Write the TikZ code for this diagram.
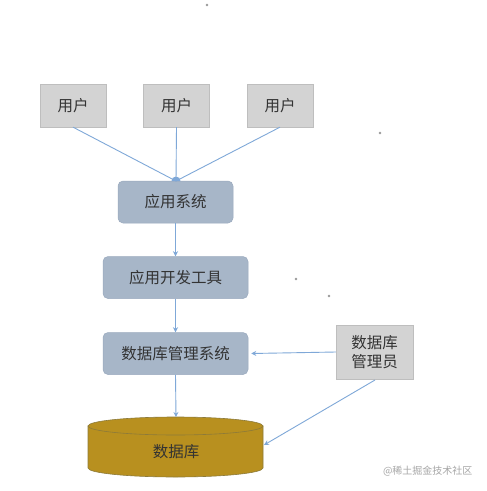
\documentclass[tikz,border=0pt]{standalone}
\usepackage{fontspec}
\setmainfont{Noto Sans CJK SC}
\usetikzlibrary{arrows.meta}
\definecolor{usergray}{HTML}{D3D3D3}
\definecolor{sysblue}{HTML}{A7B6C8}
\definecolor{sysedge}{HTML}{9AAABE}
\definecolor{dbfill}{HTML}{B8901F}
\definecolor{dbedge}{HTML}{8C7A3A}
\definecolor{linkblue}{HTML}{7FA8D8}
\definecolor{txt}{HTML}{333333}
\tikzset{
  userbox/.style={fill=usergray, draw=usergray!90!black, line width=0.3pt, minimum width=66pt, minimum height=43pt, inner sep=0pt, font=\fontsize{15.5}{18}\selectfont, text=txt},
  sysbox/.style={fill=sysblue, draw=sysedge, line width=0.5pt, rounded corners=5pt, minimum height=42pt, inner sep=0pt, font=\fontsize{15.5}{18}\selectfont, text=txt},
  link/.style={draw=linkblue, line width=0.9pt, -{Stealth[length=5pt,width=5pt]}},
  plainlink/.style={draw=linkblue, line width=0.9pt},
  speck/.style={fill=gray!80, draw=none}
}
\begin{document}
\begin{tikzpicture}[x=1pt,y=-1pt]
\useasboundingbox (0,0) rectangle (487,491);
\fill[white] (0,0) rectangle (487,491);
% users
\node[userbox] (u1) at (73,105.5) {用户};
\node[userbox] (u2) at (176.5,105.5) {用户};
\node[userbox] (u3) at (280,105.5) {用户};
% systems
\node[sysbox, minimum width=115pt] (app) at (175.5,202) {应用系统};
\node[sysbox, minimum width=145pt] (dev) at (175.5,277.5) {应用开发工具};
\node[sysbox, minimum width=145pt] (dbms) at (175.5,353.5) {数据库管理系统};
\node[userbox, minimum width=77pt, minimum height=54pt, align=center, font=\fontsize{15.5}{19}\selectfont] (dba) at (374.5,352) {数据库\\管理员};
% cylinder
\draw[dbedge, line width=0.6pt, fill=dbfill] (88,426) -- (88,468) arc[start angle=180, end angle=0, x radius=87.5, y radius=9] -- (263,426) -- cycle;
\draw[dbedge, line width=0.6pt, fill=dbfill] (175.5,426) ellipse[x radius=87.5, y radius=9];
\node[font=\fontsize{15.5}{18}\selectfont, text=txt] (db) at (176,452) {数据库};
\coordinate (dbtop) at (176,417);
\coordinate (dbside) at (264,445);
\coordinate (dbaout) at (375,380);
% connectors
\coordinate (meet) at (176,181);
\draw[plainlink] (u1.south) -- (meet);
\draw[plainlink] (u3.south) -- (meet);
\draw[plainlink] (u2.south) -- (meet);
\fill[linkblue] (meet) ++(-4.5,0) arc[start angle=180, end angle=360, radius=4.5] -- cycle;
\draw[link] (app.south) -- (dev.north);
\draw[link] (dev.south) -- (dbms.north);
\draw[link] (dbms.south) -- (dbtop);
\draw[link] (dba.west) -- ([xshift=3pt]dbms.east);
\draw[link] (dbaout) -- (dbside);
% specks
\fill[speck] (207,5) circle (1.3);
\fill[speck] (380,133) circle (1.3);
\fill[speck] (296,279) circle (1.3);
\fill[speck] (329,296) circle (1.3);
% watermark
\node[font=\fontsize{10}{12}\selectfont, text=gray!70, anchor=east] (wm) at (476,471) {@稀土掘金技术社区};
\end{tikzpicture}
\end{document}
